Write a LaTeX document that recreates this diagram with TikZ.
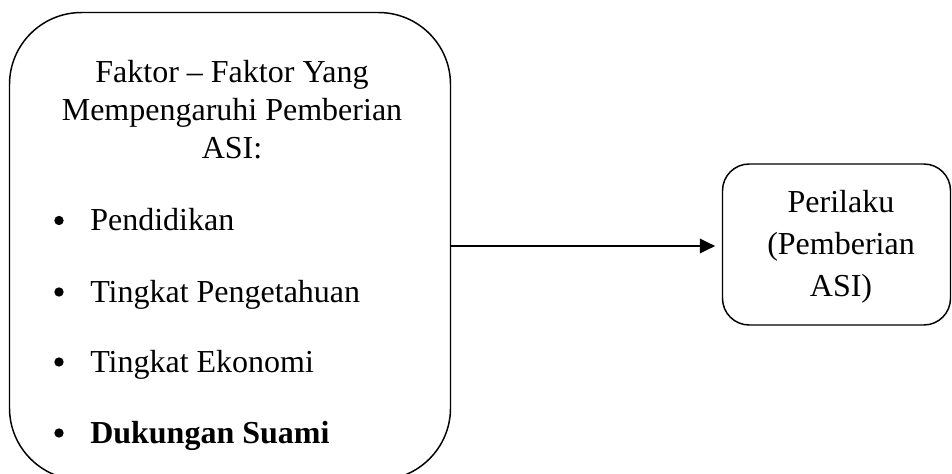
\documentclass[tikz,border=0pt]{standalone}
\usepackage{fontspec}
\setmainfont{Liberation Serif}
\usetikzlibrary{arrows.meta}
\begin{document}
\begin{tikzpicture}[x=0.75pt,y=-0.75pt,
  box/.style={draw, line width=1.1pt, inner sep=0pt},
  txt/.style={anchor=base, inner sep=0pt, font=\fontsize{24}{29}\selectfont},
  itm/.style={anchor=base west, inner sep=0pt, font=\fontsize{24}{29}\selectfont},
  dot/.style={circle, fill, inner sep=0pt, minimum size=7pt},
  conn/.style={line width=1.1pt, -{Triangle[length=11.5pt,width=11pt]}, shorten >=5pt}]
\useasboundingbox (0,0) rectangle (952,474);
\clip (0,0) rectangle (952,474);
\node[box, minimum width=330.75pt, minimum height=350.6pt, rounded corners=54pt] (L) at (230,246.25) {};
\node[box, minimum width=171pt, minimum height=120.75pt, rounded corners=20pt] (R) at (836.5,244.5) {};
\node[txt] (t1) at (232,83) {Faktor – Faktor Yang};
\node[txt] (t2) at (232,121) {Mempengaruhi Pemberian};
\node[txt] (t3) at (232,159) {ASI:};
\node[dot] (b1) at (59,220.5) {};
\node[dot] (b2) at (59,292) {};
\node[dot] (b3) at (59,362) {};
\node[dot] (b4) at (59,433) {};
\node[itm] (i1) at (90,230) {Pendidikan};
\node[itm] (i2) at (90,302) {Tingkat Pengetahuan};
\node[itm] (i3) at (90,372) {Tingkat Ekonomi};
\node[itm] (i4) at (90,443) {\bfseries Dukungan Suami};
\node[txt] (r1) at (841,212.5) {Perilaku};
\node[txt] (r2) at (841,254.5) {(Pemberian};
\node[txt] (r3) at (841,296.5) {ASI)};
\draw[conn] (L.east |- 0,246) -- (R.west |- 0,246);
\end{tikzpicture}
\end{document}
